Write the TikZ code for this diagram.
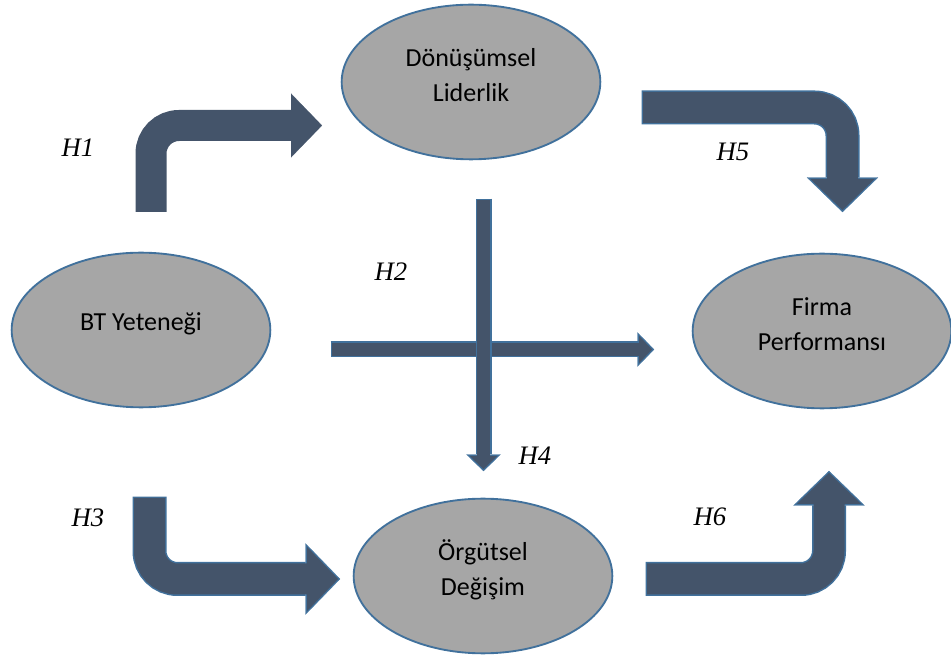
\documentclass[tikz,border=0pt]{standalone}
\usepackage{fontspec}
\setmainfont{Carlito}
\newfontfamily\hypfont{Liberation Serif}
\usetikzlibrary{shapes.geometric, arrows.meta}
\definecolor{shapegray}{RGB}{166,166,166}
\definecolor{edgeblue}{RGB}{65,113,156}
\definecolor{slate}{RGB}{68,84,106}
\tikzset{
    concept/.style={ellipse, draw=edgeblue, line width=1.4pt, fill=shapegray,
        minimum width=194pt, minimum height=116pt, inner sep=0pt,
        label={[concepttext]center:#1}},
    concepttext/.style={align=center, inner sep=0pt, yshift=5pt,
        font=\fontsize{19.5}{26.25}\selectfont},
    hyp/.style={inner sep=0pt, font=\hypfont\itshape\fontsize{20}{24}\selectfont},
    bigarrow/.style={draw=slate, line width=23.25pt, rounded corners=21pt,
        -{Triangle[length=23.25pt, width=48pt, line width=0.1pt]}},
    bigedge/.style={bigarrow, preaction={draw=edgeblue, line width=25.5pt,
        shorten >=-1.6pt, shorten <=-1.1pt,
        -{Triangle[length=26pt, width=53.4pt, line width=0.1pt]}}},
    thinarrow/.style={draw=slate, line width=9.75pt,
        -{Triangle[length=9.75pt, width=20.25pt, line width=0.1pt]},
        preaction={draw=edgeblue, line width=12pt,
        shorten >=-1.6pt, shorten <=-1.1pt,
        -{Triangle[length=12.5pt, width=25.6pt, line width=0.1pt]}}}
}
\begin{document}
\begin{tikzpicture}[x=0.75pt, y=-0.75pt]
            \useasboundingbox (0, 0) rectangle (951, 659);
            \node[concept={BT Yeteneği}] (0) at (141, 330) {};
            \node[concept={Dönüşümsel\\Liderlik}] (1) at (471, 82) {};
            \node[concept={Örgütsel\\Değişim}] (2) at (483, 576) {};
            \node[concept={Firma\\Performansı}] (3) at (822, 331) {};
            % block arrows
            \coordinate (h1s) at (151, 212);
            \coordinate (h1e) at (322, 125.5);
            \coordinate (h3s) at (149.5, 498);
            \coordinate (h3e) at (338, 579);
            \coordinate (h5s) at (643, 107.5);
            \coordinate (h5e) at (842.5, 210);
            \coordinate (h6s) at (647, 579);
            \coordinate (h6e) at (829, 473);
            \coordinate (h2s) at (332, 349.5);
            \coordinate (h2e) at (652, 349.5);
            \coordinate (h4s) at (483.5, 200);
            \coordinate (h4e) at (483.5, 469);
            \draw[bigarrow] (h1s) |- (h1e);
            \draw[bigedge] (h3s) |- (h3e);
            \draw[bigedge] (h5s) -| (h5e);
            \draw[bigedge] (h6s) -| (h6e);
            \draw[thinarrow] (h2s) -- (h2e);
            \draw[thinarrow] (h4s) -- (h4e);
            % labels
            \node[hyp] (H1) at (78, 148) {H1};
            \node[hyp] (H2) at (391, 272) {H2};
            \node[hyp] (H3) at (88, 518) {H3};
            \node[hyp] (H4) at (535, 456) {H4};
            \node[hyp] (H5) at (733, 152) {H5};
            \node[hyp] (H6) at (710, 517) {H6};
        \end{tikzpicture}
\end{document}
